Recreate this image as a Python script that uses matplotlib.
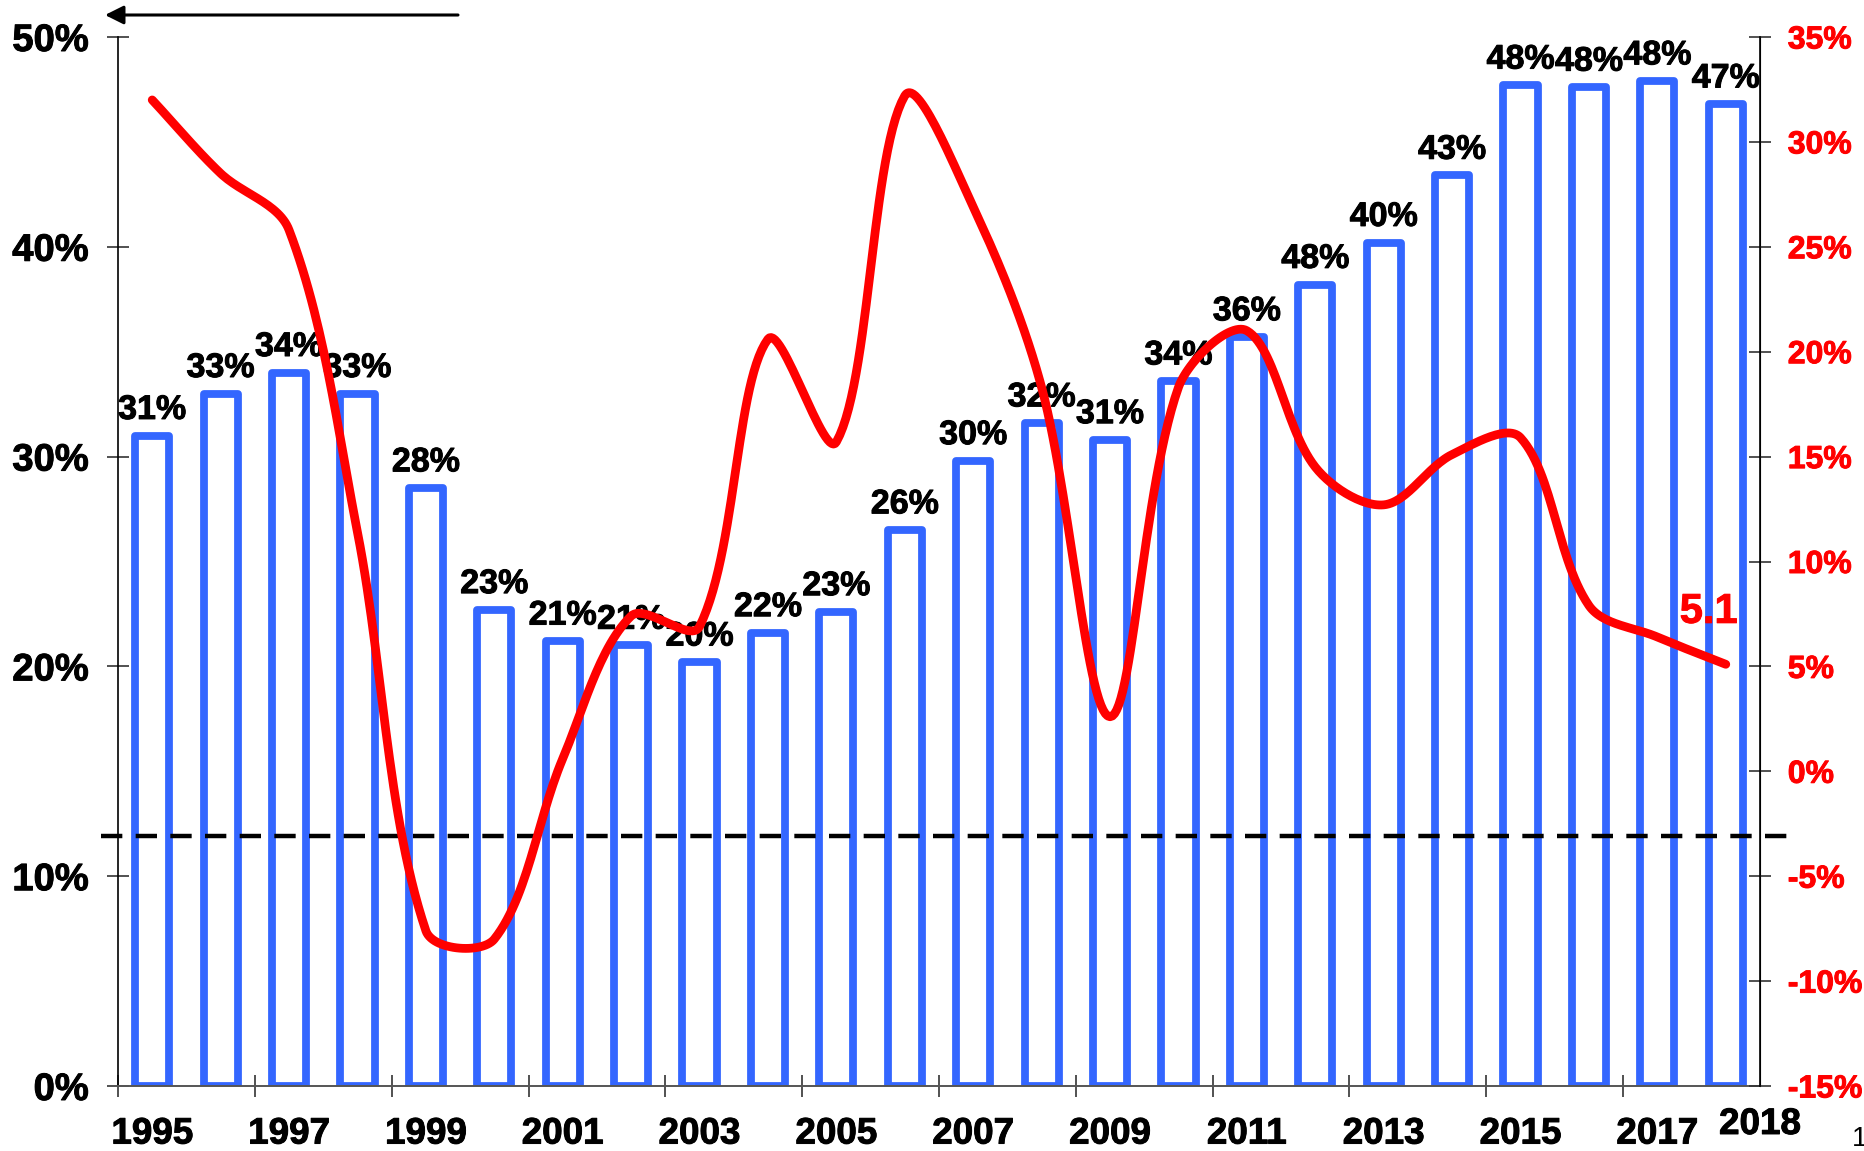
import numpy as np
import matplotlib
matplotlib.use('Agg')
import matplotlib.pyplot as plt
import matplotlib.patheffects as pe

years = list(range(1995, 2019))
bar_values = [31.0, 33.0, 34.0, 33.0, 28.5, 22.7, 21.2, 21.0, 20.2, 21.6, 22.6, 26.5,
              29.8, 31.6, 30.8, 33.6, 35.7, 38.2, 40.2, 43.4, 47.7, 47.6, 47.9, 46.8]
bar_labels = ['31%', '33%', '34%', '33%', '28%', '23%', '21%', '21%', '20%', '22%', '23%', '26%',
              '30%', '32%', '31%', '34%', '36%', '48%', '40%', '43%', '48%', '48%', '48%', '47%']
line_values = [32.0, 28.5, 25.8, 11.4, -7.6, -8.0, 0.6, 7.4, 6.9, 20.6, 15.7, 32.2,
               26.9, 18.3, 2.6, 18.3, 21.0, 14.5, 12.7, 15.1, 15.9, 7.9, 6.4, 5.1]
ref_level = 11.9
left_ticks = [0, 10, 20, 30, 40, 50]
right_ticks = [-15, -10, -5, 0, 5, 10, 15, 20, 25, 30, 35]

BLUE = '#3366ff'
W, H = 1864, 1151
FONT = 'Liberation Sans'


def smooth_line(xs, ys, px_x, px_y, tension=1/3., n=30):
    # bezier smoothing like the spreadsheet "smoothed line", done in pixel space
    P = np.column_stack([np.asarray(xs, float) * px_x, np.asarray(ys, float) * px_y])
    out = []
    for i in range(len(P) - 1):
        p0 = P[i - 1] if i > 0 else P[i]
        p1, p2 = P[i], P[i + 1]
        p3 = P[i + 2] if i + 2 < len(P) else P[i + 1]
        d01 = np.linalg.norm(p1 - p0)
        d12 = np.linalg.norm(p2 - p1)
        d23 = np.linalg.norm(p3 - p2)
        c1 = p1 + (p2 - p0) * tension * d12 / (d01 + d12) if d01 + d12 > 0 else p1
        c2 = p2 - (p3 - p1) * tension * d12 / (d12 + d23) if d12 + d23 > 0 else p2
        t = np.linspace(0, 1, n)[:, None]
        seg = ((1 - t) ** 3) * p1 + 3 * ((1 - t) ** 2) * t * c1 + 3 * (1 - t) * t ** 2 * c2 + t ** 3 * p2
        out.append(seg if i == 0 else seg[1:])
    out = np.vstack(out)
    return out[:, 0] / px_x, out[:, 1] / px_y


def heavy(color):
    return [pe.withStroke(linewidth=0.7, foreground=color)]


fig = plt.figure(figsize=(W / 100, H / 100), dpi=100)
left, right, top, bottom = 118, 1760, 37, 1086
ax = fig.add_axes([left / W, 1 - bottom / H, (right - left) / W, (bottom - top) / H])
ax2 = ax.twinx()

x = np.arange(len(years))
bars = ax.bar(x, bar_values, width=0.5, facecolor='white', edgecolor=BLUE, linewidth=5.6, zorder=2)
for b in bars:
    b.set_joinstyle('round')

for xi, v, lab in zip(x, bar_values, bar_labels):
    ax.annotate(lab, (xi, v), xytext=(0, 12), textcoords='offset points',
                ha='center', va='baseline', fontsize=24.5, fontweight='bold',
                family=FONT, color='black', zorder=3, path_effects=heavy('black'))

ax.set_xlim(-0.5, len(years) - 0.5)
ax.set_ylim(0, 50)
ax2.set_ylim(-15, 35)

# dashed reference line, running a bit past both axes
ax.plot([-0.75, len(years) - 0.05], [ref_level, ref_level], color='black', lw=3.2,
        dashes=(4.8, 3.0), clip_on=False, zorder=4)

sx, sy = smooth_line(x, line_values, (right - left) / len(years), (bottom - top) / 50.0)
ax2.plot(sx, sy, color='red', lw=6.3, solid_capstyle='round', solid_joinstyle='round', zorder=5)
ax2.text(x[-1] - 0.25, 7.6, f'{line_values[-1]}', color='red', fontsize=30,
         fontweight='bold', family=FONT, ha='center', va='center', path_effects=heavy('red'))

# spines / ticks
for a in (ax, ax2):
    a.spines['top'].set_visible(False)
ax.spines['left'].set_linewidth(1.2)
ax.spines['bottom'].set_color('#555555')
ax.spines['bottom'].set_linewidth(1.4)
ax2.spines['right'].set_linewidth(1.2)
ax2.spines['left'].set_visible(False)
ax2.spines['bottom'].set_visible(False)

ax.set_yticks(left_ticks)
ax.set_yticklabels([f'{t}%' for t in left_ticks])
ax.tick_params(axis='y', direction='inout', length=16, width=1.2, color='#333333', pad=13,
               labelsize=27.5)
ax2.set_yticks(right_ticks)
ax2.set_yticklabels([f'{t}%' for t in right_ticks])
ax2.tick_params(axis='y', direction='inout', length=16, width=1.2, color='#333333', pad=12,
                labelsize=23, labelcolor='red')
for lab in ax.get_yticklabels():
    lab.set_fontweight('bold')
    lab.set_family(FONT)
    lab.set_path_effects(heavy('black'))
for lab in ax2.get_yticklabels():
    lab.set_fontweight('bold')
    lab.set_family(FONT)
    lab.set_path_effects(heavy('red'))

ax.set_xticks(np.arange(-0.5, len(years) - 1, 2))
ax.set_xticklabels([])
ax.set_xticks(x[:-1:2], minor=True)
ax.set_xticklabels([str(y) for y in years[:-1:2]], minor=True)
ax.tick_params(axis='x', which='major', direction='inout', length=16, width=1.2, color='#333333')
ax.tick_params(axis='x', which='minor', length=0, pad=22, labelsize=26.5)
for lab in ax.get_xticklabels(minor=True):
    lab.set_fontweight('bold')
    lab.set_family(FONT)
    lab.set_path_effects(heavy('black'))
ax.text(len(years) - 0.5, -1.0, str(years[-1]), ha='center', va='top', fontsize=26.5,
        fontweight='bold', family=FONT, transform=ax.transData, clip_on=False,
        path_effects=heavy('black'))

# arrow pointing to the left-hand scale
ax.annotate('', xy=(105 / W, 1 - 15 / H), xytext=(458 / W, 1 - 15 / H),
            xycoords='figure fraction', textcoords='figure fraction',
            arrowprops=dict(arrowstyle='-|>', color='black', lw=2.2,
                            mutation_scale=28, shrinkA=0, shrinkB=0))

fig.text(1852 / W, 1 - 1152 / H, '1', fontsize=20, family=FONT, ha='left', va='bottom')

fig.savefig('out.png', dpi=100)
